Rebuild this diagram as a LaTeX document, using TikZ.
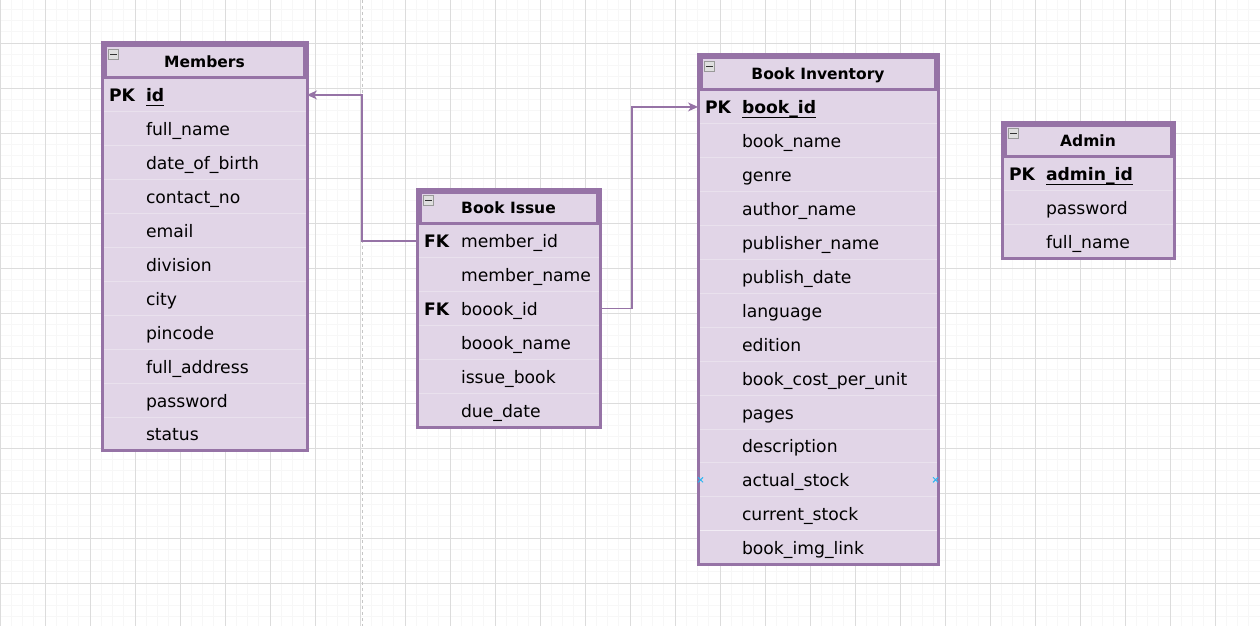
\documentclass[tikz,border=0pt]{standalone}
\usepackage{fontspec}
\setmainfont{DejaVu Sans}
\usetikzlibrary{arrows.meta}
\definecolor{erfill}{HTML}{E1D5E7}
\definecolor{erline}{HTML}{9673A6}
\definecolor{ersep}{HTML}{E9E1ED}
\definecolor{gridminor}{HTML}{F7F7F7}
\definecolor{gridmajor}{HTML}{DCDCDC}
\definecolor{hoverblue}{HTML}{29B6F2}
\newcommand{\fld}[2]{\makebox[37pt][l]{\bfseries #1}#2}
\newcommand{\pkey}[1]{\setbox0\hbox{\bfseries #1}\rlap{\rule[-4pt]{\wd0}{1.2pt}}\box0}

\begin{document}
\begin{tikzpicture}[x=1pt,y=-1pt,
  font=\fontsize{17.2}{20}\selectfont,
  row/.style={anchor=north west, text width=#1, minimum height=33.9pt,
    inner xsep=7pt, inner ysep=0pt, outer sep=0pt, text height=17pt, text depth=3pt,
    path picture={\draw[ersep, line width=1pt] (path picture bounding box.south west) -- (path picture bounding box.south east);}},
  head/.style={anchor=north west, draw=erline, fill=erfill, line width=3pt,
    minimum width=#1, minimum height=31.5pt, inner sep=0pt, outer sep=0pt,
    font=\fontsize{15.5}{18}\selectfont\bfseries, text height=11.5pt, text depth=0pt},
  minusicon/.style={anchor=north west, draw=gray!80, fill=gray!25, line width=1pt,
    minimum size=10pt, inner sep=0pt,
    path picture={\draw[black!80, line width=1.5pt] ([xshift=1.5pt]path picture bounding box.west) -- ([xshift=-1.5pt]path picture bounding box.east);}},
  tablebox/.style={draw=erline, line width=3pt},
  rel/.style={draw=erline, line width=1.3pt, -{Stealth[length=10pt,width=9pt,inset=3pt]}},
  cpoint/.style={draw=hoverblue, line width=0.9pt}]
\useasboundingbox (0,0) rectangle (1260,626);
\fill[white] (0,0) rectangle (1260,626);
% grid
\foreach \i in {0,...,112} \draw[gridminor, line width=0.9pt] (\i*11.25,0) -- (\i*11.25,626);
\foreach \j in {0,...,54} \draw[gridminor, line width=0.9pt] (0,9.25+\j*11.25) -- (1260,9.25+\j*11.25);
\foreach \i in {0,...,28} \draw[gridmajor] (\i*45,0) -- (\i*45,626);
\foreach \j in {0,...,12} \draw[gridmajor] (0,43+\j*45) -- (1260,43+\j*45);
\draw[gray!45, line width=1pt, dash pattern=on 3pt off 3pt] (362,0) -- (362,626);

% Members
\fill[erfill] (102,43) rectangle (307,450.9);
\node[head=199pt] (m-head) at (105,46) {Members};
\node[minusicon] (m-minus) at ([shift={(3,3)}]m-head.north west) {};
\node[row=191pt] (m-id) at (102,78) {\fld{PK}{\pkey{id}}};
\node[row=191pt] (m-name) at (m-id.south west) {\fld{}{full\_name}};
\node[row=191pt] (m-dob) at (m-name.south west) {\fld{}{date\_of\_birth}};
\node[row=191pt] (m-contact) at (m-dob.south west) {\fld{}{contact\_no}};
\node[row=191pt] (m-email) at (m-contact.south west) {\fld{}{email}};
\node[row=191pt] (m-division) at (m-email.south west) {\fld{}{division}};
\node[row=191pt] (m-city) at (m-division.south west) {\fld{}{city}};
\node[row=191pt] (m-pin) at (m-city.south west) {\fld{}{pincode}};
\node[row=191pt] (m-addr) at (m-pin.south west) {\fld{}{full\_address}};
\node[row=191pt] (m-pass) at (m-addr.south west) {\fld{}{password}};
\node[row=191pt] (m-status) at (m-pass.south west) {\fld{}{status}};
\draw[tablebox] (102,43) rectangle (m-status.south east);

% Book Issue
\fill[erfill] (417,189) rectangle (600,427.4);
\node[head=177pt] (bi-head) at (420,192) {Book Issue};
\node[minusicon] (bi-minus) at ([shift={(3,3)}]bi-head.north west) {};
\node[row=169pt] (bi-mid) at (417,224) {\fld{FK}{member\_id}};
\node[row=169pt] (bi-mname) at (bi-mid.south west) {\fld{}{member\_name}};
\node[row=169pt] (bi-bid) at (bi-mname.south west) {\fld{FK}{boook\_id}};
\node[row=169pt] (bi-bname) at (bi-bid.south west) {\fld{}{boook\_name}};
\node[row=169pt] (bi-issue) at (bi-bname.south west) {\fld{}{issue\_book}};
\node[row=169pt] (bi-due) at (bi-issue.south west) {\fld{}{due\_date}};
\draw[tablebox] (417,189) rectangle (bi-due.south east);

% Book Inventory
\fill[erfill] (698,55) rectangle (938,564.6);
\node[head=234pt] (bv-head) at (701,58) {Book Inventory};
\node[minusicon] (bv-minus) at ([shift={(3,3)}]bv-head.north west) {};
\node[row=226pt] (bv-id) at (698,90) {\fld{PK}{\pkey{book\_id}}};
\node[row=226pt] (bv-name) at (bv-id.south west) {\fld{}{book\_name}};
\node[row=226pt] (bv-genre) at (bv-name.south west) {\fld{}{genre}};
\node[row=226pt] (bv-author) at (bv-genre.south west) {\fld{}{author\_name}};
\node[row=226pt] (bv-pub) at (bv-author.south west) {\fld{}{publisher\_name}};
\node[row=226pt] (bv-pdate) at (bv-pub.south west) {\fld{}{publish\_date}};
\node[row=226pt] (bv-lang) at (bv-pdate.south west) {\fld{}{language}};
\node[row=226pt] (bv-ed) at (bv-lang.south west) {\fld{}{edition}};
\node[row=226pt] (bv-cost) at (bv-ed.south west) {\fld{}{book\_cost\_per\_unit}};
\node[row=226pt] (bv-pages) at (bv-cost.south west) {\fld{}{pages}};
\node[row=226pt] (bv-desc) at (bv-pages.south west) {\fld{}{description}};
\node[row=226pt] (bv-as) at (bv-desc.south west) {\fld{}{actual\_stock}};
\node[row=226pt] (bv-cs) at (bv-as.south west) {\fld{}{current\_stock}};
\node[row=226pt] (bv-img) at (bv-cs.south west) {\fld{}{book\_img\_link}};
\draw[white!55!erfill, line width=1pt] (bv-cs.south west) -- (bv-cs.south east);
\draw[tablebox] (698,55) rectangle (bv-img.south east);
\draw[cpoint] (bv-as.west) ++(2.5,0) +(-2.5,-2.5) -- +(2.5,2.5) +(-2.5,2.5) -- +(2.5,-2.5);
\draw[cpoint] (bv-as.east) ++(-2.5,0) +(-2.5,-2.5) -- +(2.5,2.5) +(-2.5,2.5) -- +(2.5,-2.5);

% Admin
\fill[erfill] (1002,122) rectangle (1174,258.7);
\node[head=166pt] (a-head) at (1005,125) {Admin};
\node[minusicon] (a-minus) at ([shift={(3,3)}]a-head.north west) {};
\node[row=158pt] (a-id) at (1002,157) {\fld{PK}{\pkey{admin\_id}}};
\node[row=158pt] (a-pass) at (a-id.south west) {\fld{}{password}};
\node[row=158pt] (a-name) at (a-pass.south west) {\fld{}{full\_name}};
\draw[tablebox] (1002,122) rectangle (a-name.south east);

% relations
\draw[rel] (bi-mid.west) -- ++(-55,0) |- (m-id.east);
\draw[rel] (bi-bid.east) -- ++(32,0) |- (bv-id.west);
\end{tikzpicture}
\end{document}
